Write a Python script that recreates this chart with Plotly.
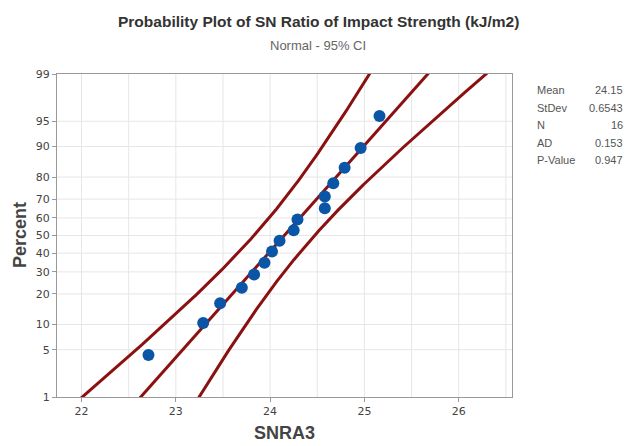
import plotly.graph_objects as go
from statistics import NormalDist

# ---- data ----
snra3 = [22.71, 23.29, 23.47, 23.70, 23.83, 23.94, 24.02, 24.10,
         24.25, 24.29, 24.58, 24.58, 24.67, 24.79, 24.96, 25.16]
percent = [4.27, 10.37, 16.46, 22.56, 28.66, 34.76, 40.85, 46.95,
           53.05, 59.15, 65.24, 71.34, 77.44, 83.54, 89.63, 95.73]
mean_val = 24.15
sd_val = 0.6543
n_val = 16
stat_labels = ["Mean", "StDev", "N", "AD", "P-Value"]
stat_values = ["24.15", "0.6543", "16", "0.153", "0.947"]
y_tick_pct = [1, 5, 10, 20, 30, 40, 50, 60, 70, 80, 90, 95, 99]

nd = NormalDist()
z = lambda p: nd.inv_cdf(p / 100.0)

# fitted line and 95% CI for percentiles (normal, MLE variance approximation)
curve_pct = [0.5 + 0.25 * k for k in range(0, 397)]
curve_z = [z(p) for p in curve_pct]
fit_x = [mean_val + sd_val * zz for zz in curve_z]
zc = nd.inv_cdf(0.975)
se = [sd_val * (1.0 / n_val + zz * zz / (2.0 * n_val)) ** 0.5 for zz in curve_z]
lo_x = [f - zc * s for f, s in zip(fit_x, se)]
hi_x = [f + zc * s for f, s in zip(fit_x, se)]

red = "#8B1111"
blue = "#0A55A5"

fig = go.Figure()
for xs in (lo_x, fit_x, hi_x):
    fig.add_trace(go.Scatter(x=xs, y=curve_z, mode="lines",
                             line=dict(color=red, width=3), hoverinfo="skip"))
fig.add_trace(go.Scatter(x=snra3, y=[z(p) for p in percent], mode="markers",
                         marker=dict(color=blue, size=12)))

L, R, T, B = 57, 118, 74, 49
W, H = 630, 446
pw = W - L - R
ph = H - T - B

def px(xp):
    return (xp - L) / pw

def py(yp):
    return (H - B - yp) / ph

fig.update_layout(
    width=W, height=H,
    margin=dict(l=L, r=R, t=T, b=B),
    paper_bgcolor="white", plot_bgcolor="white",
    showlegend=False,
    font=dict(family="Liberation Sans, Arial, sans-serif", color="#333333"),
)
axis_common = dict(
    showgrid=False, zeroline=False,
    showline=True, linecolor="#999999", linewidth=1, mirror=True,
    ticks="outside", ticklen=4, tickcolor="#999999",
    tickfont=dict(size=11, color="#444444", family="DejaVu Sans, sans-serif"),
)
fig.update_xaxes(range=[21.74, 26.565], tickvals=[22, 23, 24, 25, 26],
                 ticktext=["22", "23", "24", "25", "26"], **axis_common)
fig.update_yaxes(range=[z(1), z(99)], tickvals=[z(p) for p in y_tick_pct],
                 ticktext=[str(p) for p in y_tick_pct], **axis_common)

# grid lines
shapes = []
gx = [22 + 0.5 * k for k in range(10)]
for v in gx:
    shapes.append(dict(type="line", xref="x", yref="paper", x0=v, x1=v, y0=0, y1=1,
                       line=dict(color="#E6E6E6", width=1), layer="below"))
for p in y_tick_pct[1:-1]:
    shapes.append(dict(type="line", xref="paper", yref="y", x0=0, x1=1, y0=z(p), y1=z(p),
                       line=dict(color="#E6E6E6", width=1), layer="below"))
fig.update_layout(shapes=shapes)

ann = []
ann.append(dict(text="<b>Probability Plot of SN Ratio of Impact Strength (kJ/m2)</b>",
                x=px(318), y=py(22), xref="paper", yref="paper", showarrow=False,
                xanchor="center", yanchor="middle",
                font=dict(size=15.5, color="#333333", family="Liberation Sans Narrow, Arial Narrow, Liberation Sans, sans-serif")))
ann.append(dict(text="Normal - 95% CI", x=px(318), y=py(45), xref="paper", yref="paper",
                showarrow=False, xanchor="center", yanchor="middle",
                font=dict(size=13, color="#666666", family="Liberation Sans Narrow, Arial Narrow, Liberation Sans, sans-serif")))
ann.append(dict(text="<b>SNRA3</b>", x=px(284), y=py(433), xref="paper", yref="paper",
                showarrow=False, xanchor="center", yanchor="middle",
                font=dict(size=18, color="#444444", family="Liberation Sans Narrow, Liberation Sans, sans-serif")))
ann.append(dict(text="<b>Percent</b>", x=px(20), y=py(235), xref="paper", yref="paper",
                showarrow=False, xanchor="center", yanchor="middle", textangle=-90,
                font=dict(size=18, color="#444444", family="Liberation Sans, sans-serif")))
rows_y = [90, 107.5, 125, 142.5, 160]
for lab, val, yy in zip(stat_labels, stat_values, rows_y):
    ann.append(dict(text=lab, x=px(535), y=py(yy), xref="paper", yref="paper",
                    showarrow=False, xanchor="left", yanchor="middle",
                    font=dict(size=11, color="#555555", family="Liberation Sans, sans-serif")))
    ann.append(dict(text=val, x=px(625), y=py(yy), xref="paper", yref="paper",
                    showarrow=False, xanchor="right", yanchor="middle",
                    font=dict(size=11, color="#555555", family="Liberation Sans, sans-serif")))
fig.update_layout(annotations=ann)

fig.write_html("out.html", config={"displayModeBar": False})

# remove the default page margin so the figure sits at the window's top-left corner
with open("out.html", "r", encoding="utf-8") as fh:
    html = fh.read()
html = html.replace("<head>", "<head><style>html,body{margin:0;padding:0;overflow:hidden;}</style>", 1)
with open("out.html", "w", encoding="utf-8") as fh:
    fh.write(html)
